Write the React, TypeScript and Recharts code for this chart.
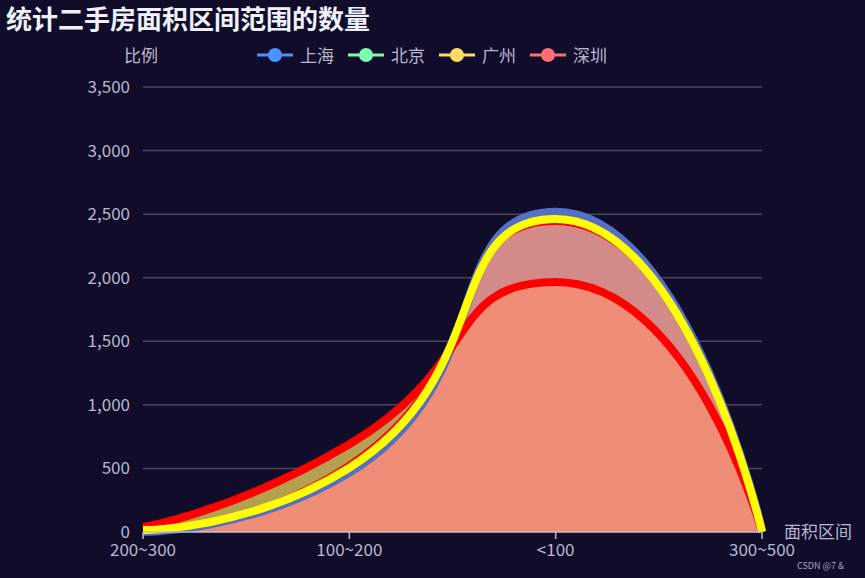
import { ComposedChart, Area, Line, XAxis, YAxis, CartesianGrid } from "recharts";

const categories = ["200~300", "100~200", "<100", "300~500"];
const shanghai = [5, 470, 2515, 0];
const beijing = [20, 550, 2422, 0];
const guangzhou = [15, 505, 2462, 0];
const shenzhen = [40, 690, 1966, 0];
const yTicks = [0, 500, 1000, 1500, 2000, 2500, 3000, 3500];

const legendItems = [
  { name: "上海", color: "#4992ff" },
  { name: "北京", color: "#7cffb2" },
  { name: "广州", color: "#fddd60" },
  { name: "深圳", color: "#ff6e76" },
];

const data = categories.map((c, i) => ({
  name: c,
  shanghai: shanghai[i],
  beijing: beijing[i],
  guangzhou: guangzhou[i],
  shenzhen: shenzhen[i],
}));

const font = '"Noto Sans CJK SC", "Noto Sans", sans-serif';
const labelColor = "#B9B8CE";

// smoothing like echarts "smooth: true" (control points clamped between neighbours)
const SMOOTH = 0.6;
const clamp = (v: number, a: number, b: number) => Math.max(Math.min(a, b), Math.min(v, Math.max(a, b)));

function smoothCurve(context: any) {
  let xs: number[] = [];
  let ys: number[] = [];
  let line = NaN;
  return {
    areaStart() { line = 0; },
    areaEnd() { line = NaN; },
    lineStart() { xs = []; ys = []; },
    point(x: number, y: number) { xs.push(+x); ys.push(+y); },
    lineEnd() {
      const n = xs.length;
      if (n > 0) {
        if (line) context.lineTo(xs[0], ys[0]);
        else context.moveTo(xs[0], ys[0]);
        let cpx0 = xs[0];
        let cpy0 = ys[0];
        for (let i = 1; i < n; i++) {
          const x = xs[i], y = ys[i], px = xs[i - 1], py = ys[i - 1];
          if (i === n - 1) {
            context.bezierCurveTo(cpx0, cpy0, x, y, x, y);
            break;
          }
          const nx = xs[i + 1], ny = ys[i + 1];
          const lenPrev = Math.hypot(x - px, y - py) || 1e-6;
          const lenNext = Math.hypot(nx - x, ny - y) || 1e-6;
          const ratio = lenNext / (lenNext + lenPrev);
          let vx = nx - px;
          let vy = ny - py;
          let ncx = clamp(x + vx * SMOOTH * ratio, nx, x);
          let ncy = clamp(y + vy * SMOOTH * ratio, ny, y);
          vx = ncx - x;
          vy = ncy - y;
          const c1x = clamp(x - (vx * lenPrev) / lenNext, px, x);
          const c1y = clamp(y - (vy * lenPrev) / lenNext, py, y);
          vx = x - c1x;
          vy = y - c1y;
          ncx = x + (vx * lenNext) / lenPrev;
          ncy = y + (vy * lenNext) / lenPrev;
          context.bezierCurveTo(cpx0, cpy0, c1x, c1y, x, y);
          cpx0 = ncx;
          cpy0 = ncy;
        }
      }
      if (line || (line !== 0 && n === 1)) context.closePath();
      line = 1 - line;
    },
  };
}

export default function App() {
  return (
    <div style={{ position: "absolute", left: 0, top: 0, width: 865, height: 578, background: "#100C2A", overflow: "hidden" }}>
      <div style={{ position: "absolute", left: 6, top: 0, fontFamily: font, fontWeight: 700, fontSize: 26, color: "#EEF1FA", lineHeight: "36px" }}>
        统计二手房面积区间范围的数量
      </div>
      <div style={{ position: "absolute", left: 124, top: 43, fontFamily: font, fontSize: 17, color: labelColor, lineHeight: "24px" }}>
        比例
      </div>
      <div style={{ position: "absolute", left: 257, top: 43, display: "flex", alignItems: "center", gap: 14, fontFamily: font, fontSize: 17, color: labelColor, lineHeight: "24px" }}>
        {legendItems.map((it) => (
          <div key={it.name} style={{ display: "flex", alignItems: "center", gap: 7 }}>
            <svg width={36} height={20}>
              <line x1={0} y1={10} x2={36} y2={10} stroke={it.color} strokeWidth={3} />
              <circle cx={18} cy={10} r={7} fill={it.color} />
            </svg>
            <span>{it.name}</span>
          </div>
        ))}
      </div>
      <div style={{ position: "absolute", left: 784, top: 519, fontFamily: font, fontSize: 17, color: labelColor, lineHeight: "24px" }}>
        面积区间
      </div>
      <div style={{ position: "absolute", left: 797, top: 559, fontFamily: font, fontSize: 9, color: "#A8A8B8", lineHeight: "14px" }}>
        CSDN @7 &amp;
      </div>
      <ComposedChart width={865} height={578} data={data} margin={{ top: 87, right: 103, left: 0, bottom: 0 }}>
        <CartesianGrid vertical={false} stroke="#484753" strokeWidth={1.5} />
        <XAxis
          dataKey="name"
          scale="point"
          padding={{ left: 0, right: 0 }}
          height={46}
          stroke={labelColor}
          strokeWidth={1.5}
          tickSize={7}
          tickMargin={5}
          tick={{ fill: labelColor, fontSize: 17, fontFamily: font }}
          interval={0}
        />
        <YAxis
          width={143}
          domain={[0, 3500]}
          ticks={yTicks}
          axisLine={false}
          tickLine={false}
          tickMargin={7}
          tickFormatter={(v: number) => v.toLocaleString("en-US")}
          tick={{ fill: labelColor, fontSize: 17, fontFamily: font }}
        />
        <Area type={smoothCurve as any} dataKey="shanghai" name="上海" stroke="none" fill="#1f96a9" fillOpacity={1} isAnimationActive={false} />
        <Area type={smoothCurve as any} dataKey="shenzhen" name="深圳" stroke="none" fill="#b5a050" fillOpacity={1} isAnimationActive={false} />
        <Area type={smoothCurve as any} dataKey="beijing" name="北京" stroke="none" fill="#ff8880" fillOpacity={0.8} isAnimationActive={false} />
        <Line type={smoothCurve as any} dataKey="shanghai" stroke="#5470c6" strokeWidth={9} dot={false} isAnimationActive={false} />
        <Line type={smoothCurve as any} dataKey="shenzhen" stroke="#ff0000" strokeWidth={8} dot={false} isAnimationActive={false} />
        <Line type={smoothCurve as any} dataKey="beijing" stroke="#ff0000" strokeWidth={2} dot={false} isAnimationActive={false} />
        <Line type={smoothCurve as any} dataKey="guangzhou" stroke="#ffff00" strokeWidth={8} dot={false} isAnimationActive={false} />
      </ComposedChart>
    </div>
  );
}
